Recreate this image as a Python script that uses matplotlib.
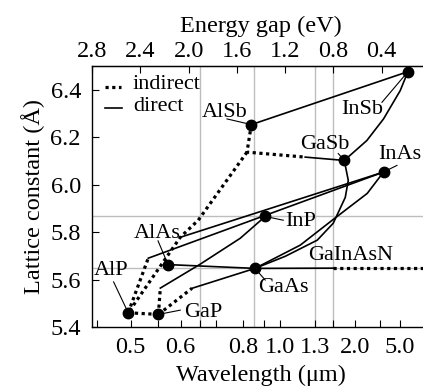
import numpy as np
import matplotlib
matplotlib.use("Agg")
import matplotlib.pyplot as plt

plt.rcParams['font.family'] = ['Liberation Serif', 'DejaVu Serif']

# binary compounds: band gap (eV) and lattice constant (A)
names = ['AlP', 'GaP', 'AlAs', 'GaAs', 'InP', 'AlSb', 'GaSb', 'InAs', 'InSb']
gap = [2.50, 2.25, 2.17, 1.45, 1.365, 1.48, 0.71, 0.385, 0.183]
latt = [5.460, 5.453, 5.663, 5.647, 5.866, 6.253, 6.102, 6.053, 6.476]

# alloy lines (gap, lattice) -- direct parts
direct_lines = [
    ([1.48, 0.183], [6.253, 6.476]),                                   # AlSb-InSb
    ([0.183, 0.247, 0.385, 0.523, 0.71], [6.476, 6.396, 6.277, 6.186, 6.102]),  # InSb-GaSb
    ([0.71, 0.677, 0.702, 0.802, 0.934, 1.199, 1.45],
     [6.102, 6.018, 5.946, 5.837, 5.766, 5.698, 5.647]),               # GaSb-GaAs
    ([0.385, 0.52, 0.81, 1.075, 1.45], [6.053, 5.963, 5.850, 5.745, 5.647]),  # InAs-GaAs
    ([0.385, 2.334], [6.053, 5.690]),                                  # InAs-AlP side
    ([0.385, 2.069], [6.053, 5.778]),                                  # InAs-AlSb side
    ([2.234, 1.903, 1.572, 1.365], [5.564, 5.665, 5.774, 5.866]),      # GaP-InP
    ([2.17, 1.45], [5.663, 5.647]),                                    # AlAs-GaAs
    ([1.45, 0.802], [5.647, 5.648]),                                   # GaInAsN
    ([1.972, 1.45], [5.563, 5.647]),                                   # GaP-GaAs
    ([1.034, 0.71], [6.116, 6.102]),                                   # AlSb-GaSb
]
# indirect parts
indirect_lines = [
    ([1.48, 1.516, 1.034], [6.253, 6.137, 6.116]),
    ([1.516, 1.92, 2.069, 2.50], [6.137, 5.850, 5.778, 5.460]),
    ([2.50, 2.334], [5.460, 5.690]),
    ([2.50, 2.25], [5.460, 5.453]),
    ([2.25, 2.234], [5.453, 5.564]),
    ([2.25, 1.972], [5.453, 5.563]),
    ([0.802, 0.0], [5.648, 5.648]),
]

# label text positions and leader end points
label_pos = {'AlSb': (1.70, 6.303), 'InSb': (0.562, 6.316), 'GaSb': (0.868, 6.169),
             'InAs': (0.247, 6.127), 'InP': (1.075, 5.845), 'AlAs': (2.259, 5.795),
             'AlP': (2.640, 5.640), 'GaP': (1.878, 5.463), 'GaAs': (1.216, 5.568)}
leader_end = {'AlSb': (1.682, 6.277), 'InSb': (0.398, 6.347), 'GaSb': (0.760, 6.131),
              'InAs': (0.274, 6.081), 'InP': (1.216, 5.850), 'AlAs': (2.253, 5.763),
              'AlP': (2.621, 5.590), 'GaP': (2.069, 5.471), 'GaAs': (1.365, 5.598)}

gap_ticks = [2.8, 2.4, 2.0, 1.6, 1.2, 0.8, 0.4]
wl_major = [0.5, 0.6, 0.8, 1.0, 1.3, 2.0, 5.0]
wl_minor = [0.45, 0.55, 0.65, 0.7, 0.9, 1.55, 3.0]
wl_grid = [0.65, 0.85, 1.3, 1.55]
latt_grid = [5.866, 5.647]

fig = plt.figure(figsize=(4.23, 3.89), dpi=100)
ax = fig.add_axes([92 / 423, 62 / 389, 338 / 423, 261 / 389])
ax.set_xlim(2.8, 0.0)
ax.set_ylim(5.4, 6.5)

for w in wl_grid:
    ax.axvline(1.24 / w, color='#bdbdbd', lw=1.0, zorder=0)
for a in latt_grid:
    ax.axhline(a, color='#bdbdbd', lw=1.0, zorder=0)

for xs, ys in direct_lines:
    ax.plot(xs, ys, color='k', lw=1.2, zorder=2)
for xs, ys in indirect_lines:
    ax.plot(xs, ys, color='k', lw=2.3, ls=(0, (1, 1.1)), zorder=2)

ax.plot(gap, latt, 'o', color='k', ms=7.5, zorder=3)

fs = 16
for n, e, a in zip(names, gap, latt):
    ex, ey = leader_end[n]
    ax.plot([e, ex], [a, ey], color='k', lw=0.8, zorder=2)
    tx, ty = label_pos[n]
    ax.text(tx, ty, n, fontsize=fs, ha='center', va='center', zorder=4)
ax.text(0.661, 5.703, 'GaInAsN', fontsize=fs, ha='center', va='center')

# legend
ax.plot([2.69, 2.56], [6.413, 6.413], color='k', lw=2.3, ls=(0, (1, 1.1)))
ax.plot([2.69, 2.55], [6.324, 6.324], color='k', lw=1.2)
ax.text(2.46, 6.42, 'indirect', fontsize=fs, ha='left', va='center')
ax.text(2.46, 6.33, 'direct', fontsize=fs, ha='left', va='center')

ax.set_xticks([1.24 / w for w in wl_major], labels=[f'{w:.1f}' for w in wl_major])
ax.set_xticks([1.24 / w for w in wl_minor], minor=True)
ax.set_yticks(np.arange(5.4, 6.41, 0.2))
ax.set_yticklabels([f'{v:.1f}' for v in np.arange(5.4, 6.41, 0.2)])
ax.tick_params(axis='both', which='both', direction='in', length=5, width=0.8,
               labelsize=17.5, top=False, right=False)
ax.tick_params(axis='x', pad=7)
ax.tick_params(axis='y', pad=8)
ax.set_xlabel('Wavelength (μm)', fontsize=17.5, labelpad=5)
ax.set_ylabel('Lattice constant (Å)', fontsize=17.5, labelpad=4)

top = ax.secondary_xaxis('top')
top.set_xticks(gap_ticks, labels=[f'{g:.1f}' for g in gap_ticks])
top.tick_params(direction='in', length=5, width=0.8, labelsize=17.5, pad=3)
top.set_xlabel('Energy gap (eV)', fontsize=17.5, labelpad=6)

for sp in ax.spines.values():
    sp.set_linewidth(1.0)

fig.savefig('out.png', dpi=100)
